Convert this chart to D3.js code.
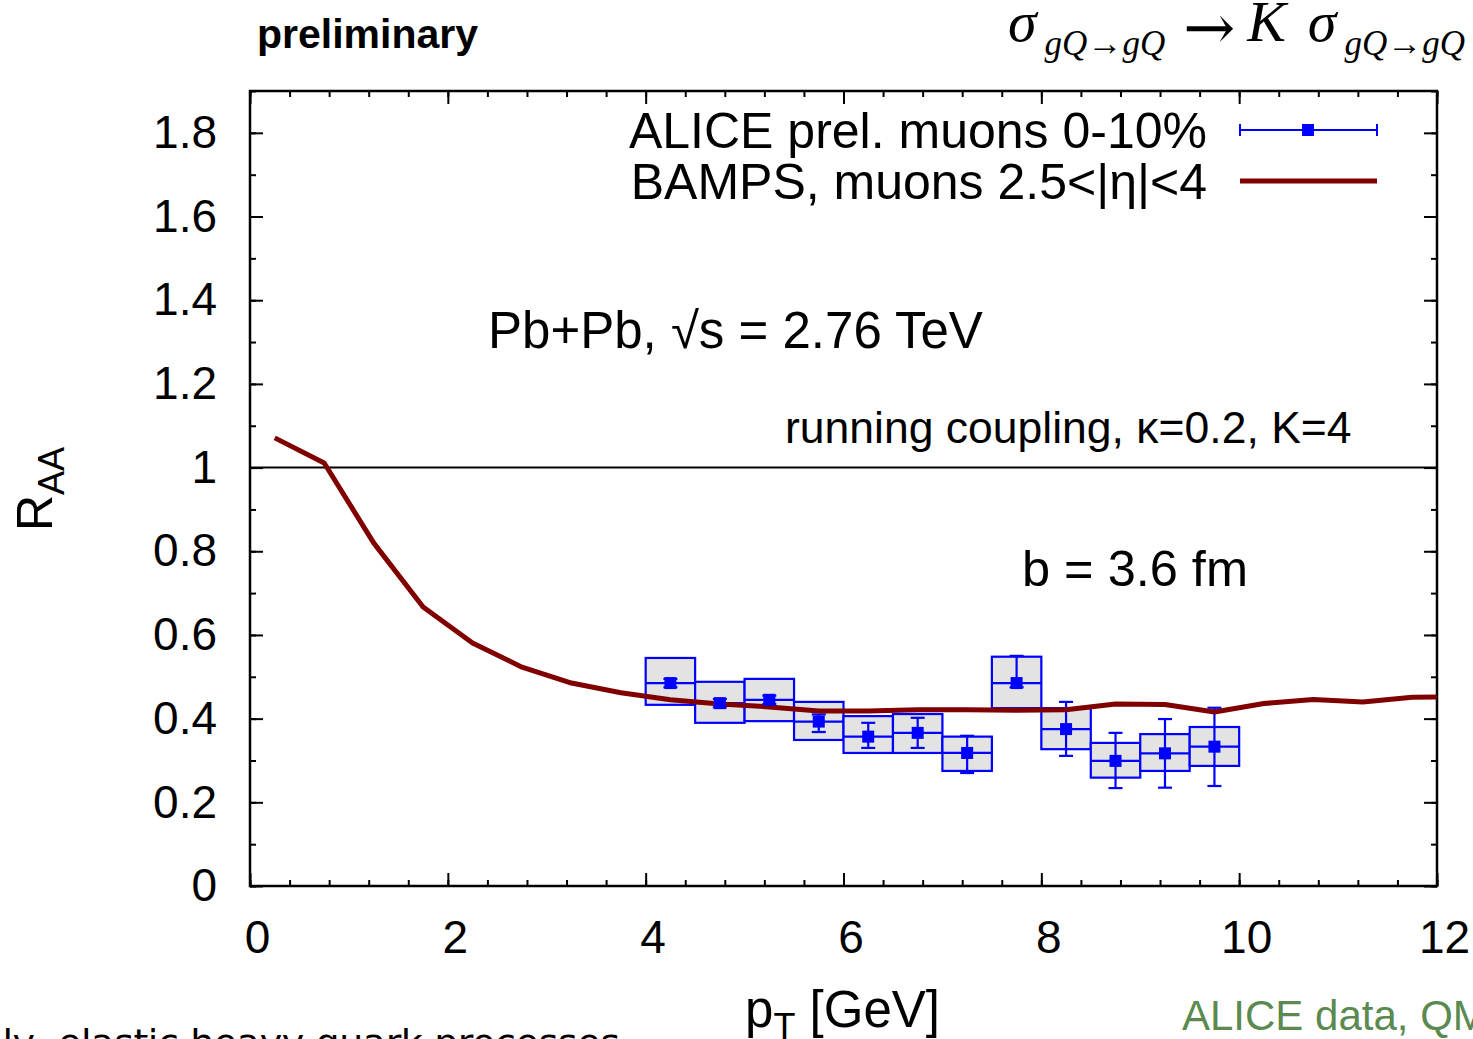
<!DOCTYPE html>
<html>
<head>
<meta charset="utf-8">
<script src="https://cdn.jsdelivr.net/npm/d3@7"></script>
<style>
  body { margin: 0; background: #fff; }
  svg { display: block; font-family: "Liberation Sans", Arial, sans-serif; }
</style>
</head>
<body>
<svg width="1473" height="1039"></svg>
<script>
// ALICE data points (bin centres, value, stat and sys bounds)
var alicePt = [4.25, 4.75, 5.25, 5.75, 6.25, 6.75, 7.25, 7.75, 8.25, 8.75, 9.25, 9.75];
var aliceRaa = [0.485, 0.437, 0.445, 0.393, 0.357, 0.366, 0.318, 0.485, 0.375, 0.299, 0.317, 0.333];
var aliceStatLo = [0.475, 0.427, 0.435, 0.368, 0.33, 0.33, 0.27, 0.475, 0.311, 0.234, 0.235, 0.239];
var aliceStatHi = [0.495, 0.447, 0.455, 0.41, 0.39, 0.402, 0.359, 0.55, 0.44, 0.366, 0.399, 0.426];
var aliceSysLo = [0.433, 0.39, 0.394, 0.349, 0.318, 0.318, 0.275, 0.425, 0.327, 0.259, 0.275, 0.287];
var aliceSysHi = [0.545, 0.488, 0.495, 0.44, 0.406, 0.411, 0.357, 0.548, 0.425, 0.342, 0.363, 0.38];
var binHalf = 0.25;

// BAMPS curve
var bampsPt = [0.25, 0.75, 1.25, 1.75, 2.25, 2.75, 3.25, 3.75, 4.25, 4.75, 5.25, 5.75, 6.25, 6.75, 7.25, 7.75, 8.25, 8.75, 9.25, 9.75, 10.25, 10.75, 11.25, 11.75, 12.25];
var bampsRaa = [1.071, 1.011, 0.82, 0.667, 0.581, 0.523, 0.485, 0.462, 0.445, 0.435, 0.428, 0.418, 0.418, 0.421, 0.421, 0.42, 0.421, 0.435, 0.434, 0.416, 0.436, 0.446, 0.44, 0.451, 0.452];

var xTicks = [0, 2, 4, 6, 8, 10, 12];
var yTicks = [0, 0.2, 0.4, 0.6, 0.8, 1, 1.2, 1.4, 1.6, 1.8];

var svg = d3.select("svg"),
    pLeft = 250, pRight = 1437, pTop = 91, pBottom = 886;

var x = d3.scaleLinear().domain([0, 12]).range([pLeft, pRight]),
    y = d3.scaleLinear().domain([0, 1.9]).range([pBottom, pTop]);

var blue = "#0000ff", red = "#800000";

svg.append("clipPath").attr("id", "clip")
    .append("rect")
    .attr("x", pLeft).attr("y", pTop)
    .attr("width", pRight - pLeft).attr("height", pBottom - pTop);

// minor ticks
var xMinor = d3.range(0, 12.01, 0.4), yMinor = d3.range(0, 1.91, 0.1);
function axisStyle(g) {
    g.select(".domain").remove();
    g.selectAll("line").attr("stroke", "#000").attr("stroke-width", 2);
}
svg.append("g").attr("transform", "translate(0," + pBottom + ")")
    .call(d3.axisBottom(x).tickValues(xMinor).tickSize(-6).tickFormat("")).call(axisStyle);
svg.append("g").attr("transform", "translate(0," + pTop + ")")
    .call(d3.axisTop(x).tickValues(xMinor).tickSize(-6).tickFormat("")).call(axisStyle);
svg.append("g").attr("transform", "translate(" + pLeft + ",0)")
    .call(d3.axisLeft(y).tickValues(yMinor).tickSize(-6).tickFormat("")).call(axisStyle);
svg.append("g").attr("transform", "translate(" + pRight + ",0)")
    .call(d3.axisRight(y).tickValues(yMinor).tickSize(-6).tickFormat("")).call(axisStyle);

// major ticks with labels
var gx = svg.append("g").attr("transform", "translate(0," + pBottom + ")")
    .call(d3.axisBottom(x).tickValues(xTicks).tickSize(-13).tickPadding(34).tickFormat(d3.format("d")))
    .call(axisStyle);
gx.selectAll("text").attr("font-size", 46).attr("font-family", "Liberation Sans, Arial").attr("fill", "#000").attr("dx", 7);

var gy = svg.append("g").attr("transform", "translate(" + pLeft + ",0)")
    .call(d3.axisLeft(y).tickValues(yTicks).tickSize(-13).tickPadding(33).tickFormat(function (d) { return String(+d.toFixed(1)); }))
    .call(axisStyle);
gy.selectAll("text").attr("font-size", 46).attr("font-family", "Liberation Sans, Arial").attr("fill", "#000");

svg.append("g").attr("transform", "translate(0," + pTop + ")")
    .call(d3.axisTop(x).tickValues(xTicks).tickSize(-13).tickFormat("")).call(axisStyle);
svg.append("g").attr("transform", "translate(" + pRight + ",0)")
    .call(d3.axisRight(y).tickValues(yTicks).tickSize(-13).tickFormat("")).call(axisStyle);

// frame
svg.append("rect")
    .attr("x", pLeft).attr("y", pTop)
    .attr("width", pRight - pLeft).attr("height", pBottom - pTop)
    .attr("fill", "none").attr("stroke", "#000").attr("stroke-width", 2.5);

// line at RAA = 1
svg.append("line")
    .attr("x1", pLeft).attr("x2", pRight)
    .attr("y1", y(1)).attr("y2", y(1))
    .attr("stroke", "#000").attr("stroke-width", 2);

var plot = svg.append("g").attr("clip-path", "url(#clip)");

// systematic boxes
plot.selectAll(".sys")
    .data(alicePt)
    .enter().append("rect")
    .attr("class", "sys")
    .attr("x", function (d) { return x(d - binHalf); })
    .attr("y", function (d, i) { return y(aliceSysHi[i]); })
    .attr("width", function (d) { return x(d + binHalf) - x(d - binHalf); })
    .attr("height", function (d, i) { return y(aliceSysLo[i]) - y(aliceSysHi[i]); })
    .attr("fill", "#e3e3e3").attr("stroke", blue).attr("stroke-width", 2.2);

// horizontal bin lines
plot.selectAll(".hbar")
    .data(alicePt)
    .enter().append("line")
    .attr("x1", function (d) { return x(d - binHalf); })
    .attr("x2", function (d) { return x(d + binHalf); })
    .attr("y1", function (d, i) { return y(aliceRaa[i]); })
    .attr("y2", function (d, i) { return y(aliceRaa[i]); })
    .attr("stroke", blue).attr("stroke-width", 2.2);

// stat error bars
plot.selectAll(".vbar")
    .data(alicePt)
    .enter().append("line")
    .attr("x1", function (d) { return x(d); })
    .attr("x2", function (d) { return x(d); })
    .attr("y1", function (d, i) { return y(aliceStatLo[i]); })
    .attr("y2", function (d, i) { return y(aliceStatHi[i]); })
    .attr("stroke", blue).attr("stroke-width", 2.2);

[aliceStatLo, aliceStatHi].forEach(function (arr) {
    plot.selectAll(null)
        .data(alicePt)
        .enter().append("line")
        .attr("x1", function (d) { return x(d) - 7; })
        .attr("x2", function (d) { return x(d) + 7; })
        .attr("y1", function (d, i) { return y(arr[i]); })
        .attr("y2", function (d, i) { return y(arr[i]); })
        .attr("stroke", blue).attr("stroke-width", 2.2);
});

// BAMPS curve
var line = d3.line()
    .x(function (d, i) { return x(bampsPt[i]); })
    .y(function (d) { return y(d); });

plot.append("path")
    .datum(bampsRaa)
    .attr("d", line)
    .attr("fill", "none")
    .attr("stroke", red)
    .attr("stroke-width", 5)
    .attr("stroke-linejoin", "round");

// data points on top
plot.selectAll(".pt")
    .data(alicePt)
    .enter().append("rect")
    .attr("x", function (d) { return x(d) - 6; })
    .attr("y", function (d, i) { return y(aliceRaa[i]) - 6; })
    .attr("width", 12).attr("height", 12)
    .attr("fill", blue);

// legend
var leg = svg.append("g").attr("font-size", 50).attr("text-anchor", "end").attr("fill", "#000");
leg.append("text").attr("x", 1207).attr("y", 148).text("ALICE prel. muons 0-10%");
leg.append("text").attr("x", 1207).attr("y", 199).text("BAMPS, muons 2.5<|\u03b7|<4");

svg.append("line").attr("x1", 1240).attr("x2", 1377).attr("y1", 130).attr("y2", 130)
    .attr("stroke", blue).attr("stroke-width", 2);
[1240, 1377].forEach(function (cx) {
    svg.append("line").attr("x1", cx).attr("x2", cx).attr("y1", 124).attr("y2", 136)
        .attr("stroke", blue).attr("stroke-width", 2);
});
svg.append("rect").attr("x", 1302).attr("y", 124).attr("width", 12).attr("height", 12).attr("fill", blue);
svg.append("line").attr("x1", 1240).attr("x2", 1377).attr("y1", 181).attr("y2", 181)
    .attr("stroke", red).attr("stroke-width", 5);

// annotations
svg.append("text").attr("x", 488).attr("y", 348).attr("font-size", 51).text("Pb+Pb, \u221as = 2.76 TeV");
svg.append("text").attr("x", 785).attr("y", 443).attr("font-size", 44.5).text("running coupling, \u03ba=0.2, K=4");
svg.append("text").attr("x", 1022).attr("y", 586).attr("font-size", 50.5).text("b = 3.6 fm");

// title bits
svg.append("text").attr("x", 257).attr("y", 48).attr("font-size", 41).attr("font-weight", "bold").text("preliminary");

var f = svg.append("text").attr("x", 1008).attr("y", 41)
    .attr("font-family", "Liberation Serif, Times New Roman, serif").attr("font-size", 58);
f.append("tspan").attr("font-style", "italic").text("\u03c3");
f.append("tspan").attr("font-size", 35).attr("dy", 14).attr("dx", 8).attr("font-style", "italic").text("gQ\u2192gQ");
f.append("tspan").attr("dy", -6).attr("dx", 18).attr("font-size", 62).attr("font-family", "DejaVu Serif").text("\u2192");
f.append("tspan").attr("dy", -8).attr("dx", 12).attr("font-style", "italic").text("K");
f.append("tspan").attr("dx", 22).attr("font-style", "italic").text("\u03c3");
f.append("tspan").attr("font-size", 35).attr("dy", 14).attr("dx", 8).attr("font-style", "italic").text("gQ\u2192gQ");

// axis titles
var yl = svg.append("text").attr("transform", "translate(52,531) rotate(-90)").attr("font-size", 50);
yl.append("tspan").text("R");
yl.append("tspan").attr("font-size", 36).attr("dy", 12).text("AA");

var xl = svg.append("text").attr("x", 745).attr("y", 1027).attr("font-size", 51);
xl.append("tspan").text("p");
xl.append("tspan").attr("font-size", 36).attr("dy", 12).text("T");
xl.append("tspan").attr("dy", -12).text(" [GeV]");

// cut-off footer texts
svg.append("text").attr("x", -44).attr("y", 1056).attr("font-size", 38).attr("font-family", "DejaVu Sans")
    .attr("textLength", 664).attr("lengthAdjust", "spacing").text("only, elastic heavy quark processes");
svg.append("text").attr("x", 1182).attr("y", 1030).attr("font-size", 42).attr("fill", "#5b8a50").text("ALICE data, QM 2011");
</script>
</body>
</html>
